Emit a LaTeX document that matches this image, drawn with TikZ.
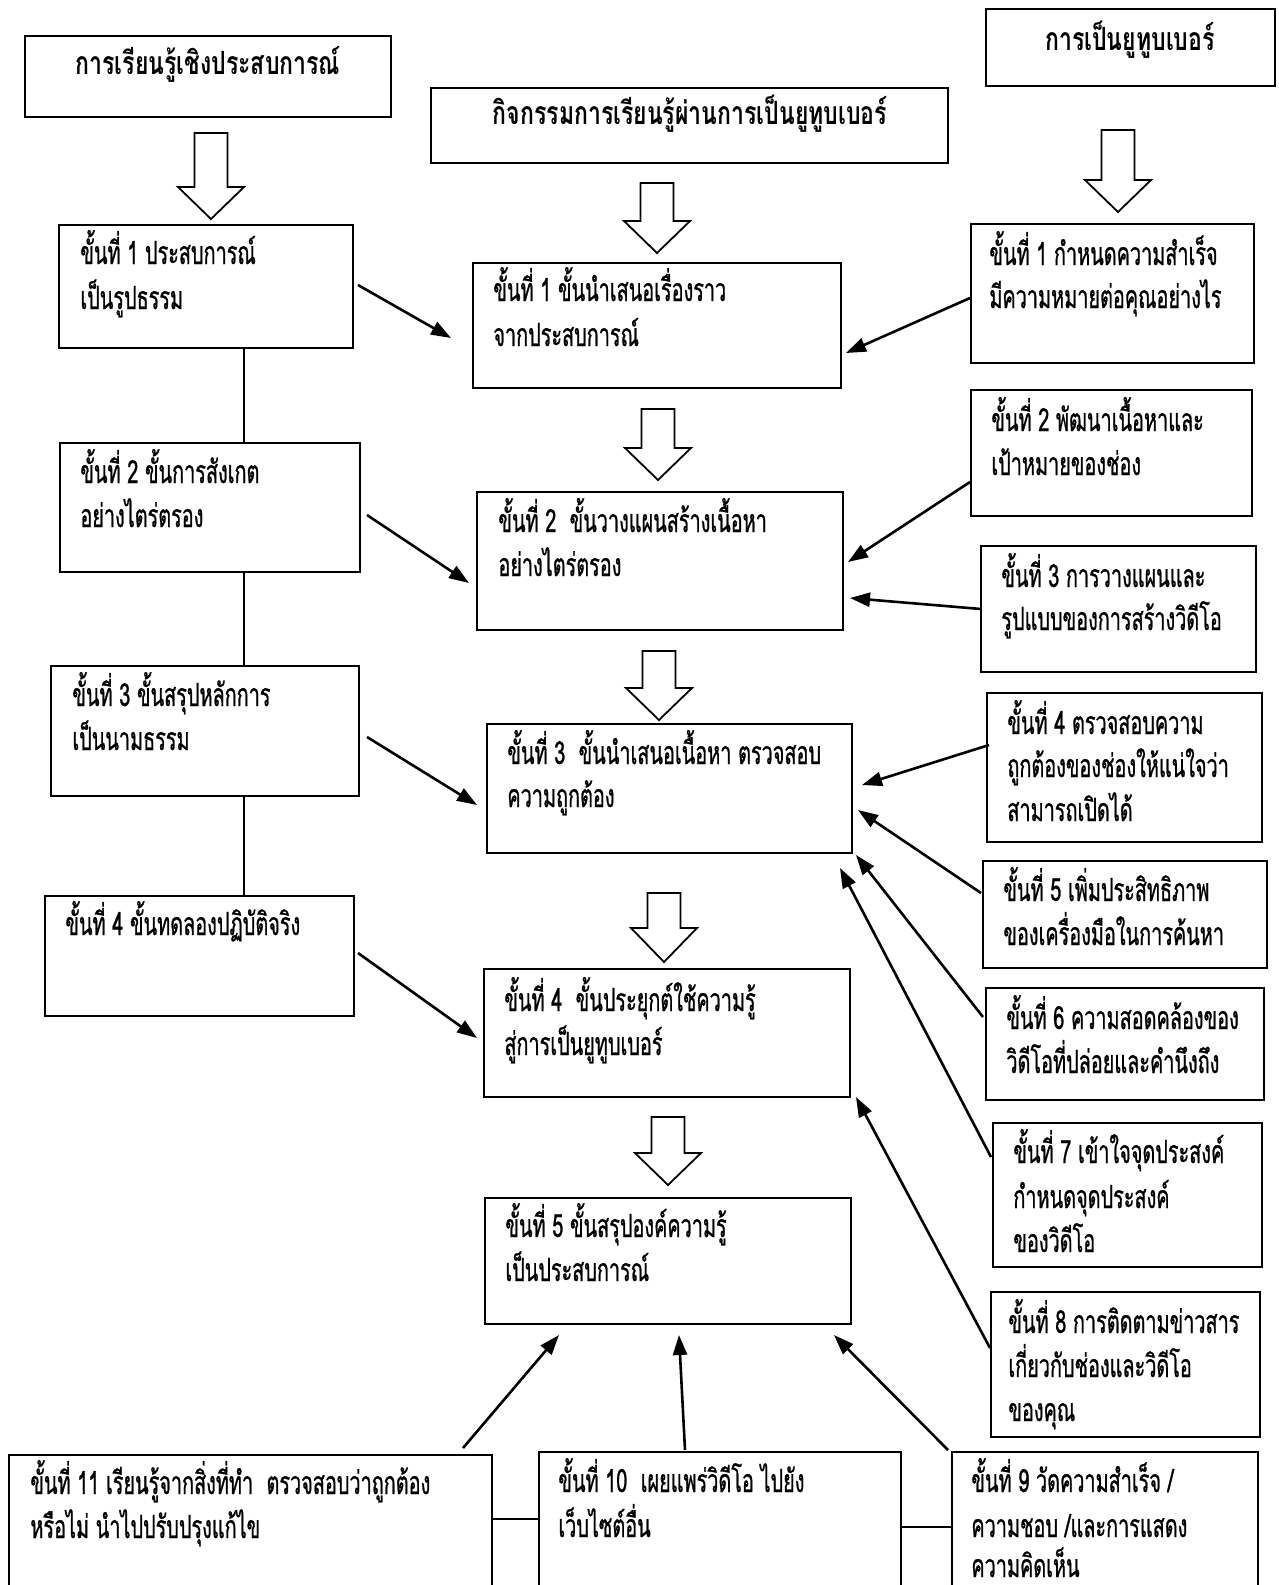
\documentclass[tikz,border=0pt]{standalone}
\usepackage{fontspec}
\setmainfont[Script=Thai,FakeStretch=0.72]{Loma}
\newfontfamily\stepfont[Script=Thai,FakeStretch=0.62,FakeBold=0.8]{Loma}
\usetikzlibrary{arrows.meta,calc}
\tikzset{
  box/.style={draw, line width=1pt, rectangle, inner sep=0pt, outer sep=0pt, anchor=north west},
  txt/.style={anchor=base west, inner sep=0pt, font=\stepfont\fontsize{16}{22}\selectfont},
  htxt/.style={anchor=base, inner sep=0pt, font=\fontsize{16}{22}\selectfont\bfseries},
  arr/.style={line width=1.3pt, -{Triangle[length=10pt,width=7pt]}},
  link/.style={line width=1pt},
  hollow/.style={draw, line width=0.9pt, fill=white, line join=miter}
}
\newcommand\bx[5]{\node[box, minimum width={(#4-#2)*0.5pt}, minimum height={(#5-#3)*0.5pt}] (#1) at (#2,#3) {};}
\newcommand\tl[4]{\node[txt] (#1) at (#2,#3) {#4};}
\newcommand\harrow[4]{\draw[hollow] ({#1-16.5},#2) -- ({#1+16.5},#2) -- ({#1+16.5},#3) -- ({#1+33},#3) -- (#1,#4) -- ({#1-33},#3) -- ({#1-16.5},#3) -- cycle;}
\begin{document}
\begin{tikzpicture}[x=0.5pt,y=-0.5pt]
\useasboundingbox (0,0) rectangle (1279,1585);
\clip (0,0) rectangle (1279,1585);
\fill[white] (0,0) rectangle (1279,1585);

% headers
\bx{HL}{25}{36}{391}{117}
\bx{HM}{431}{88}{948}{163}
\bx{HR}{986}{9}{1275}{86}
\node[htxt] (hlt) at (208,74) {การเรียนรู้เชิงประสบการณ์};
\node[htxt] (hmt) at (690,124) {กิจกรรมการเรียนรู้ผ่านการเป็นยูทูบเบอร์};
\node[htxt] (hrt) at (1130,50) {การเป็นยูทูบเบอร์};

% hollow arrows
\harrow{211}{133}{187}{219}
\harrow{657}{183}{221}{253}
\harrow{1118}{130}{180}{212}
\harrow{658}{409}{448}{480}
\harrow{659}{651}{688}{720}
\harrow{664}{893}{928}{962}
\harrow{668}{1117}{1153}{1185}

% left column
\bx{L1}{59}{225}{353}{348}
\bx{L2}{60}{443}{360}{572}
\bx{L3}{51}{666}{359}{796}
\bx{L4}{45}{896}{354}{1016}
\tl{l1a}{80}{264}{ขั้นที่ 1 ประสบการณ์}
\tl{l1b}{80}{309}{เป็นรูปธรรม}
\tl{l2a}{80}{483}{ขั้นที่ 2 ขั้นการสังเกต}
\tl{l2b}{80}{527}{อย่างไตร่ตรอง}
\tl{l3a}{72}{706}{ขั้นที่ 3 ขั้นสรุปหลักการ}
\tl{l3b}{72}{750}{เป็นนามธรรม}
\tl{l4a}{65}{935}{ขั้นที่ 4 ขั้นทดลองปฏิบัติจริง}
\draw[link] (L1.south -| 244,0) -- (L2.north -| 244,0);
\draw[link] (L2.south -| 244,0) -- (L3.north -| 244,0);
\draw[link] (L3.south -| 244,0) -- (L4.north -| 244,0);

% middle column
\bx{M1}{473}{263}{841}{388}
\bx{M2}{477}{492}{843}{630}
\bx{M3}{487}{724}{852}{853}
\bx{M4}{484}{969}{850}{1097}
\bx{M5}{485}{1198}{851}{1324}
\tl{m1a}{493}{301}{ขั้นที่ 1 ขั้นนำเสนอเรื่องราว}
\tl{m1b}{493}{346}{จากประสบการณ์}
\tl{m2a}{498}{532}{ขั้นที่ 2~ ขั้นวางแผนสร้างเนื้อหา}
\tl{m2b}{498}{576}{อย่างไตร่ตรอง}
\tl{m3a}{507}{764}{ขั้นที่ 3~ ขั้นนำเสนอเนื้อหา ตรวจสอบ}
\tl{m3b}{507}{807}{ความถูกต้อง}
\tl{m4a}{504}{1011}{ขั้นที่ 4~ ขั้นประยุกต์ใช้ความรู้}
\tl{m4b}{504}{1055}{สู่การเป็นยูทูบเบอร์}
\tl{m5a}{505}{1237}{ขั้นที่ 5 ขั้นสรุปองค์ความรู้}
\tl{m5b}{505}{1281}{เป็นประสบการณ์}

% right column
\bx{R1}{971}{224}{1254}{363}
\bx{R2}{971}{390}{1252}{516}
\bx{R3}{981}{546}{1256}{672}
\bx{R4}{987}{693}{1262}{842}
\bx{R5}{983}{861}{1267}{968}
\bx{R6}{986}{988}{1264}{1100}
\bx{R7}{993}{1123}{1262}{1267}
\bx{R8}{991}{1292}{1260}{1437}
\tl{r1a}{989}{265}{ขั้นที่ 1 กำหนดความสำเร็จ}
\tl{r1b}{989}{308}{มีความหมายต่อคุณอย่างไร}
\tl{r2a}{991}{431}{ขั้นที่ 2 พัฒนาเนื้อหาและ}
\tl{r2b}{991}{475}{เป้าหมายของช่อง}
\tl{r3a}{1001}{587}{ขั้นที่ 3 การวางแผนและ}
\tl{r3b}{1001}{630}{รูปแบบของการสร้างวิดีโอ}
\tl{r4a}{1007}{734}{ขั้นที่ 4 ตรวจสอบความ}
\tl{r4b}{1007}{777}{ถูกต้องของช่องให้แน่ใจว่า}
\tl{r4c}{1007}{821}{สามารถเปิดได้}
\tl{r5a}{1003}{901}{ขั้นที่ 5 เพิ่มประสิทธิภาพ}
\tl{r5b}{1003}{945}{ของเครื่องมือในการค้นหา}
\tl{r6a}{1006}{1029}{ขั้นที่ 6 ความสอดคล้องของ}
\tl{r6b}{1006}{1073}{วิดีโอที่ปล่อยและคำนึงถึง}
\tl{r7a}{1013}{1163}{ขั้นที่ 7 เข้าใจจุดประสงค์}
\tl{r7b}{1013}{1208}{กำหนดจุดประสงค์}
\tl{r7c}{1013}{1252}{ของวิดีโอ}
\tl{r8a}{1008}{1333}{ขั้นที่ 8 การติดตามข่าวสาร}
\tl{r8b}{1008}{1377}{เกี่ยวกับช่องและวิดีโอ}
\tl{r8c}{1008}{1421}{ของคุณ}

% bottom row
\bx{B11}{9}{1455}{492}{1620}
\bx{B10}{539}{1452}{901}{1620}
\bx{B9}{952}{1452}{1258}{1620}
\tl{b11a}{30}{1494}{ขั้นที่ 11 เรียนรู้จากสิ่งที่ทำ~ ตรวจสอบว่าถูกต้อง}
\tl{b11b}{30}{1538}{หรือไม่ นำไปปรับปรุงแก้ไข}
\tl{b10a}{558}{1492}{ขั้นที่ 10~ เผยแพร่วิดีโอ ไปยัง}
\tl{b10b}{558}{1537}{เว็บไซต์อื่น}
\tl{b9a}{971}{1492}{ขั้นที่ 9 วัดความสำเร็จ /}
\tl{b9b}{971}{1537}{ความชอบ /และการแสดง}
\tl{b9c}{971}{1577}{ความคิดเห็น}
\draw[link] (B11.east |- 0,1519) -- (B10.west |- 0,1519);
\draw[link] (B10.east |- 0,1527) -- (B9.west |- 0,1527);

% arrows from left column
\draw[arr] ($(L1.north east)+(5,60)$) -- ($(M1.north west)+(-22,75)$);
\draw[arr] ($(L2.north east)+(7,72)$) -- ($(M2.north west)+(-8,91)$);
\draw[arr] ($(L3.north east)+(8,71)$) -- ($(M3.north west)+(-10,81)$);
\draw[arr] ($(L4.north east)+(4,57)$) -- ($(M4.north west)+(-7,69)$);

% arrows from right column
\draw[arr] ($(R1.north west)+(-1,74)$) -- ($(M1.north east)+(5,90)$);
\draw[arr] ($(R2.north west)+(-1,92)$) -- ($(M2.north east)+(5,70)$);
\draw[arr] ($(R3.north west)+(0,63)$) -- ($(M2.north east)+(7,106)$);
\draw[arr] ($(R4.north west)+(2,52)$) -- ($(M3.north east)+(10,61)$);
\draw[arr] ($(R5.north west)+(-2,32)$) -- ($(M3.north east)+(6,86)$);
\draw[arr] ($(R6.north west)+(-3,29)$) -- ($(M3.south east)+(4,2)$);
\draw[arr] ($(R7.north west)+(-2,34)$) -- ($(M3.south east)+(-12,15)$);
\draw[arr] ($(R8.north west)+(-1,56)$) -- ($(M4.south east)+(6,0)$);

% arrows from bottom row
\draw[arr] ($(B11.north east)+(-29,-7)$) -- ($(M5.south west)+(74,11)$);
\draw[arr] ($(B10.north west)+(146,-2)$) -- ($(M5.south west)+(194,11)$);
\draw[arr] ($(B9.north west)+(-4,-2)$) -- ($(M5.south east)+(-17,11)$);
\end{tikzpicture}
\end{document}
